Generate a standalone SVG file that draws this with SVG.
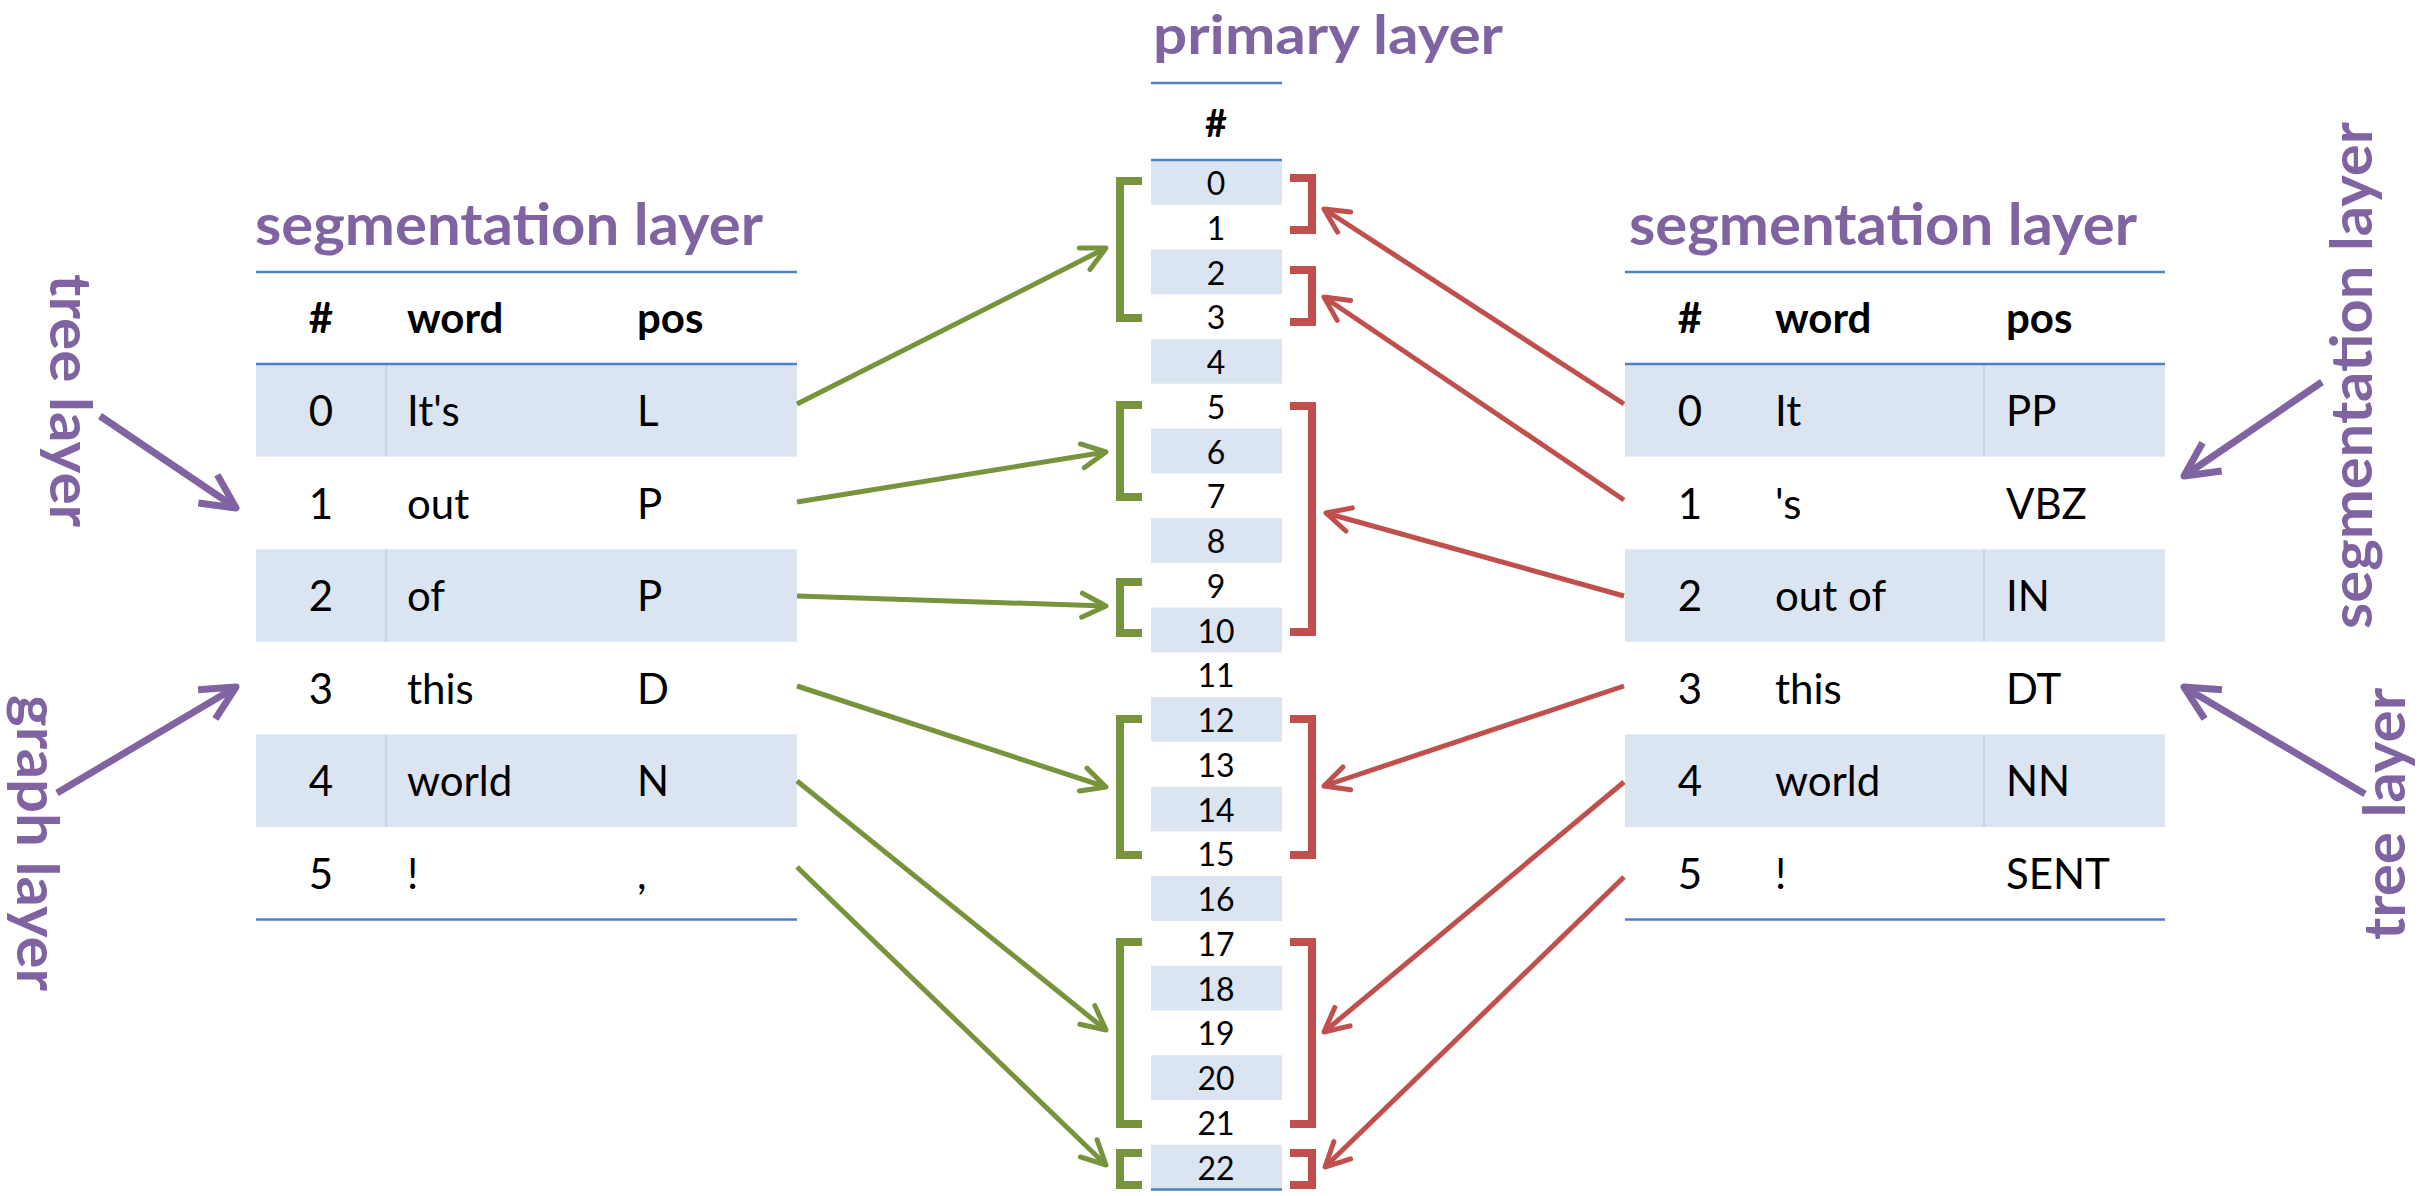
<svg xmlns="http://www.w3.org/2000/svg" width="2433" height="1196" viewBox="0 0 2433 1196">
<style>
.ttl{font-family:Lato,"Open Sans",sans-serif;font-weight:bold;font-size:58px;fill:#8064A2}
.hd{font-family:Lato,"Open Sans",sans-serif;font-weight:bold;font-size:42px;fill:#000}
.cell{font-family:Lato,"Open Sans",sans-serif;font-size:42px;fill:#000}
.num{font-family:Lato,"Open Sans",sans-serif;font-size:32px;fill:#000;text-anchor:middle}
.mid{text-anchor:middle}
.rule{stroke:#4F81BD;stroke-width:2.5;fill:none}
.shade{fill:#DBE5F1}
.div{stroke:#B8CCE4;stroke-width:1.2}
.gb{stroke:#77933C;stroke-width:8;fill:none;stroke-linejoin:miter}
.rb{stroke:#C0504D;stroke-width:8;fill:none;stroke-linejoin:miter}
.ga{stroke:#77933C;stroke-width:5;fill:none;marker-end:url(#ahg)}
.ra{stroke:#C0504D;stroke-width:5;fill:none;marker-end:url(#ahr)}
.pa{stroke:#8064A2;stroke-width:7;fill:none;marker-end:url(#ahp)}
</style>
<defs>
<marker id="ahg" markerUnits="userSpaceOnUse" markerWidth="40" markerHeight="40" refX="0" refY="0" orient="auto" style="overflow:visible">
<path d="M-24,-12 L0,0 L-24,12" fill="none" stroke="#77933C" stroke-width="5" stroke-linejoin="round" stroke-linecap="round"/>
</marker>
<marker id="ahr" markerUnits="userSpaceOnUse" markerWidth="40" markerHeight="40" refX="0" refY="0" orient="auto" style="overflow:visible">
<path d="M-24,-12 L0,0 L-24,12" fill="none" stroke="#C0504D" stroke-width="5" stroke-linejoin="round" stroke-linecap="round"/>
</marker>
<marker id="ahp" markerUnits="userSpaceOnUse" markerWidth="60" markerHeight="60" refX="0" refY="0" orient="auto" style="overflow:visible">
<path d="M-34,-17 L0,0 L-34,17" fill="none" stroke="#8064A2" stroke-width="7" stroke-linejoin="round" stroke-linecap="butt"/>
</marker>
</defs>
<rect width="2433" height="1196" fill="#fff"/>

<!-- Left segmentation layer table -->
<g id="left-table">
<text class="ttl" x="255" y="245" textLength="508" lengthAdjust="spacingAndGlyphs">segmentation layer</text>
<rect class="shade" x="256" y="364" width="541" height="92.6"/>
<rect class="shade" x="256" y="549.2" width="541" height="92.6"/>
<rect class="shade" x="256" y="734.4" width="541" height="92.6"/>
<line class="div" x1="386" y1="364" x2="386" y2="456.6"/>
<line class="div" x1="386" y1="549.2" x2="386" y2="641.8"/>
<line class="div" x1="386" y1="734.4" x2="386" y2="827"/>
<line class="rule" x1="256" y1="272" x2="797" y2="272"/>
<line class="rule" x1="256" y1="364" x2="797" y2="364"/>
<line class="rule" x1="256" y1="919.6" x2="797" y2="919.6"/>
<text class="hd mid" x="321" y="333">#</text>
<text class="hd" x="407" y="333">word</text>
<text class="hd" x="637" y="333">pos</text>
<g class="cell">
<text class="mid" x="321" y="426">0</text><text x="407" y="426">It's</text><text x="637" y="426">L</text>
<text class="mid" x="321" y="518.6">1</text><text x="407" y="518.6">out</text><text x="637" y="518.6">P</text>
<text class="mid" x="321" y="611.2">2</text><text x="407" y="611.2">of</text><text x="637" y="611.2">P</text>
<text class="mid" x="321" y="703.8">3</text><text x="407" y="703.8">this</text><text x="637" y="703.8">D</text>
<text class="mid" x="321" y="796.4">4</text><text x="407" y="796.4">world</text><text x="637" y="796.4">N</text>
<text class="mid" x="321" y="889">5</text><text x="407" y="889">!</text><text x="637" y="889">,</text>
</g>
</g>

<!-- Right segmentation layer table -->
<g id="right-table">
<text class="ttl" x="1629" y="245" textLength="508" lengthAdjust="spacingAndGlyphs">segmentation layer</text>
<rect class="shade" x="1625" y="364" width="540" height="92.6"/>
<rect class="shade" x="1625" y="549.2" width="540" height="92.6"/>
<rect class="shade" x="1625" y="734.4" width="540" height="92.6"/>
<line class="div" x1="1984" y1="364" x2="1984" y2="456.6"/>
<line class="div" x1="1984" y1="549.2" x2="1984" y2="641.8"/>
<line class="div" x1="1984" y1="734.4" x2="1984" y2="827"/>
<line class="rule" x1="1625" y1="272" x2="2165" y2="272"/>
<line class="rule" x1="1625" y1="364" x2="2165" y2="364"/>
<line class="rule" x1="1625" y1="919.6" x2="2165" y2="919.6"/>
<text class="hd mid" x="1690" y="333">#</text>
<text class="hd" x="1775" y="333">word</text>
<text class="hd" x="2006" y="333">pos</text>
<g class="cell">
<text class="mid" x="1690" y="426">0</text><text x="1775" y="426">It</text><text x="2006" y="426">PP</text>
<text class="mid" x="1690" y="518.6">1</text><text x="1775" y="518.6">'s</text><text x="2006" y="518.6">VBZ</text>
<text class="mid" x="1690" y="611.2">2</text><text x="1775" y="611.2">out of</text><text x="2006" y="611.2">IN</text>
<text class="mid" x="1690" y="703.8">3</text><text x="1775" y="703.8">this</text><text x="2006" y="703.8">DT</text>
<text class="mid" x="1690" y="796.4">4</text><text x="1775" y="796.4">world</text><text x="2006" y="796.4">NN</text>
<text class="mid" x="1690" y="889">5</text><text x="1775" y="889">!</text><text x="2006" y="889">SENT</text>
</g>
</g>

<!-- Primary layer table -->
<g id="primary-table">
<text class="ttl" x="1153" y="54" style="font-size:54px" textLength="350" lengthAdjust="spacingAndGlyphs">primary layer</text>
<line class="rule" x1="1151" y1="83" x2="1282" y2="83"/>
<text class="hd mid" x="1216" y="137" style="font-size:38px">#</text>
<g class="shade">
<rect x="1151" y="160" width="131" height="44.76"/>
<rect x="1151" y="249.52" width="131" height="44.76"/>
<rect x="1151" y="339.04" width="131" height="44.76"/>
<rect x="1151" y="428.56" width="131" height="44.76"/>
<rect x="1151" y="518.08" width="131" height="44.76"/>
<rect x="1151" y="607.6" width="131" height="44.76"/>
<rect x="1151" y="697.12" width="131" height="44.76"/>
<rect x="1151" y="786.64" width="131" height="44.76"/>
<rect x="1151" y="876.16" width="131" height="44.76"/>
<rect x="1151" y="965.68" width="131" height="44.76"/>
<rect x="1151" y="1055.2" width="131" height="44.76"/>
<rect x="1151" y="1144.72" width="131" height="44.76"/>
</g>
<line class="rule" x1="1151" y1="160" x2="1282" y2="160"/>
<line class="rule" x1="1151" y1="1189.5" x2="1282" y2="1189.5"/>
<g class="num">
<text x="1216" y="195">0</text>
<text x="1216" y="239.8">1</text>
<text x="1216" y="284.5">2</text>
<text x="1216" y="329.3">3</text>
<text x="1216" y="374">4</text>
<text x="1216" y="418.8">5</text>
<text x="1216" y="463.6">6</text>
<text x="1216" y="508.3">7</text>
<text x="1216" y="553.1">8</text>
<text x="1216" y="597.8">9</text>
<text x="1216" y="642.6">10</text>
<text x="1216" y="687.4">11</text>
<text x="1216" y="732.1">12</text>
<text x="1216" y="776.9">13</text>
<text x="1216" y="821.6">14</text>
<text x="1216" y="866.4">15</text>
<text x="1216" y="911.2">16</text>
<text x="1216" y="955.9">17</text>
<text x="1216" y="1000.7">18</text>
<text x="1216" y="1045.4">19</text>
<text x="1216" y="1090.2">20</text>
<text x="1216" y="1135">21</text>
<text x="1216" y="1179.7">22</text>
</g>
</g>

<!-- Brackets -->
<g id="green-brackets">
<path class="gb" d="M1142,181 H1120 V318 H1142"/>
<path class="gb" d="M1142,405 H1120 V497 H1142"/>
<path class="gb" d="M1142,582 H1120 V633 H1142"/>
<path class="gb" d="M1142,719 H1120 V855 H1142"/>
<path class="gb" d="M1142,942 H1120 V1124 H1142"/>
<path class="gb" d="M1142,1153 H1120 V1185 H1142"/>
</g>
<g id="red-brackets">
<path class="rb" d="M1290,178 H1312 V230 H1290"/>
<path class="rb" d="M1290,270 H1312 V322 H1290"/>
<path class="rb" d="M1290,406 H1312 V632 H1290"/>
<path class="rb" d="M1290,719 H1312 V855 H1290"/>
<path class="rb" d="M1290,942 H1312 V1124 H1290"/>
<path class="rb" d="M1290,1153 H1312 V1185 H1290"/>
</g>

<!-- Side labels -->
<g id="label-tree-left">
<text class="ttl" transform="translate(50,274) rotate(90)" x="0" y="0" textLength="253" lengthAdjust="spacingAndGlyphs">tree layer</text>
</g>
<g id="label-graph-left">
<text class="ttl" transform="translate(17,695) rotate(90)" x="0" y="0" textLength="296" lengthAdjust="spacingAndGlyphs">graph layer</text>
</g>
<g id="label-seg-right">
<text class="ttl" transform="translate(2372,629) rotate(-90)" x="0" y="0" textLength="507" lengthAdjust="spacingAndGlyphs">segmentation layer</text>
</g>
<g id="label-tree-right">
<text class="ttl" transform="translate(2405,940) rotate(-90)" x="0" y="0" textLength="252" lengthAdjust="spacingAndGlyphs">tree layer</text>
</g>

<!-- Connectors -->
<g id="connectors">
<line class="ga" x1="797" y1="404" x2="1106" y2="248"/>
<line class="ga" x1="797" y1="502" x2="1106" y2="452"/>
<line class="ga" x1="797" y1="596" x2="1106" y2="606"/>
<line class="ga" x1="797" y1="686" x2="1106" y2="787"/>
<line class="ga" x1="797" y1="781" x2="1106" y2="1030"/>
<line class="ga" x1="797" y1="867" x2="1106" y2="1165"/>
<line class="ra" x1="1624" y1="404" x2="1324" y2="209"/>
<line class="ra" x1="1624" y1="500" x2="1324" y2="297"/>
<line class="ra" x1="1624" y1="596" x2="1326" y2="513"/>
<line class="ra" x1="1624" y1="686" x2="1324" y2="786"/>
<line class="ra" x1="1624" y1="782" x2="1324" y2="1032"/>
<line class="ra" x1="1624" y1="877" x2="1325" y2="1167"/>
<line class="pa" x1="100" y1="416" x2="236" y2="508"/>
<line class="pa" x1="57" y1="793" x2="236" y2="687"/>
<line class="pa" x1="2322" y1="382" x2="2184" y2="476"/>
<line class="pa" x1="2365" y1="794" x2="2184" y2="687"/>
</g>
</svg>
